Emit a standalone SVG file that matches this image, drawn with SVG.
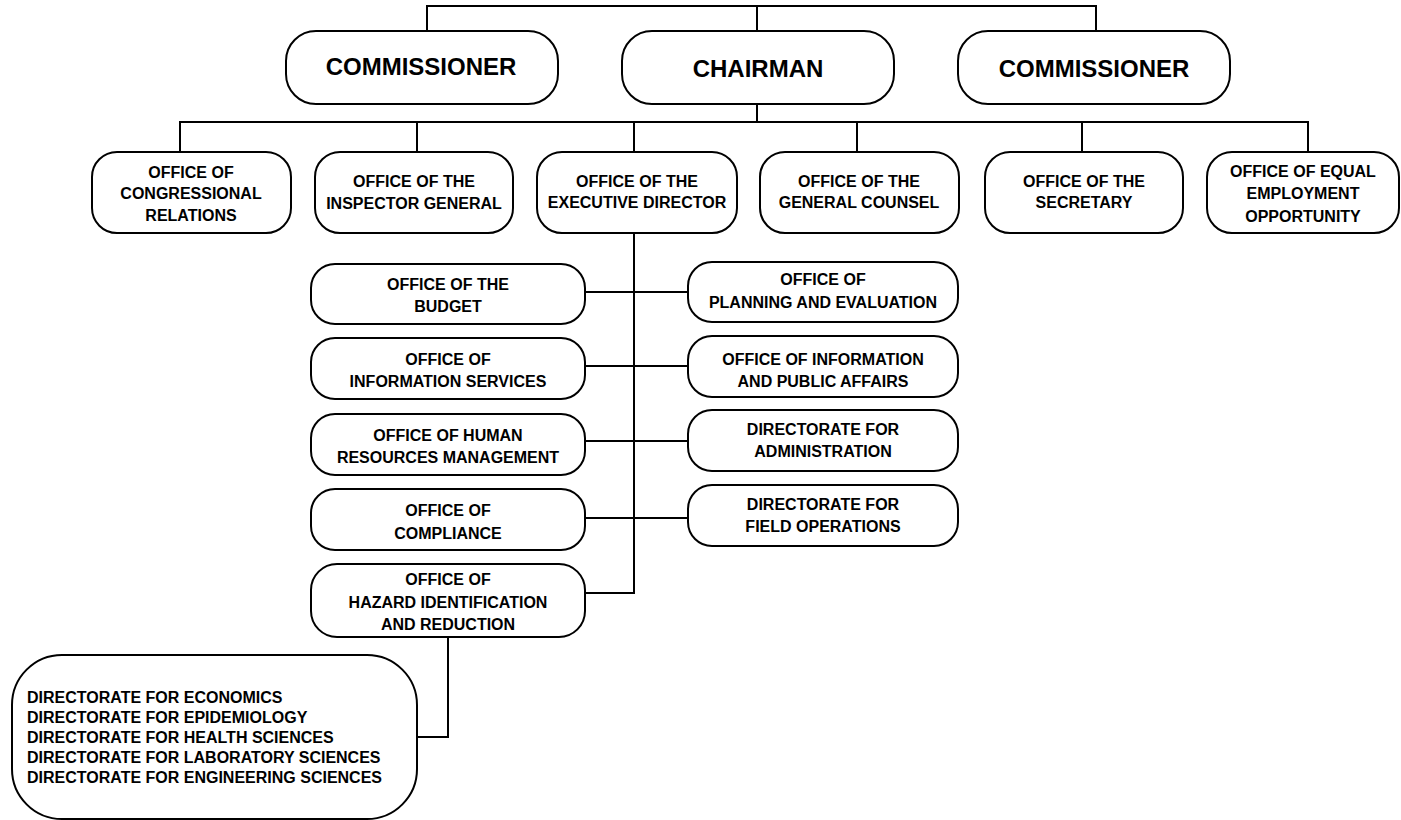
<svg xmlns="http://www.w3.org/2000/svg" width="1401" height="820" viewBox="0 0 1401 820">
<style>
.box{fill:#fff;stroke:#000;stroke-width:2}
.t{font-family:"Liberation Sans",Arial,sans-serif;font-weight:bold;font-size:16px;fill:#000;text-anchor:middle}
.big{font-size:24px}
.l{text-anchor:start}
.c{fill:none;stroke:#000;stroke-width:2}
</style>
<rect width="1401" height="820" fill="#fff"/>
<g id="connectors">
<polyline class="c" points="427,31 427,6 1096,6 1096,31"/>
<line class="c" x1="757" y1="6" x2="757" y2="31"/>
<line class="c" x1="757" y1="104" x2="757" y2="122"/>
<polyline class="c" points="180,152 180,122 1308,122 1308,152"/>
<line class="c" x1="417" y1="122" x2="417" y2="152"/>
<line class="c" x1="634" y1="122" x2="634" y2="152"/>
<line class="c" x1="857" y1="122" x2="857" y2="152"/>
<line class="c" x1="1082" y1="122" x2="1082" y2="152"/>
<polyline class="c" points="634,233 634,593 585,593"/>
<line class="c" x1="585" y1="292" x2="688" y2="292"/>
<line class="c" x1="585" y1="366" x2="688" y2="366"/>
<line class="c" x1="585" y1="441" x2="688" y2="441"/>
<line class="c" x1="585" y1="518" x2="688" y2="518"/>
<polyline class="c" points="448,637 448,737 417,737"/>
</g>
<g id="commissioner1"><rect class="box" x="286" y="31" width="272" height="73" rx="30"/><text class="t big" x="421" y="75">COMMISSIONER</text></g>
<g id="chairman"><rect class="box" x="622" y="31" width="272" height="73" rx="30"/><text class="t big" x="758" y="77">CHAIRMAN</text></g>
<g id="commissioner2"><rect class="box" x="958" y="31" width="272" height="73" rx="30"/><text class="t big" x="1094" y="77">COMMISSIONER</text></g>

<g id="congressional"><rect class="box" x="92" y="152" width="199" height="81" rx="25"/><text class="t" x="191" y="178">OFFICE OF</text><text class="t" x="191" y="199">CONGRESSIONAL</text><text class="t" x="191" y="221">RELATIONS</text></g>
<g id="inspector"><rect class="box" x="315" y="152" width="198" height="81" rx="25"/><text class="t" x="414" y="187">OFFICE OF THE</text><text class="t" x="414" y="209">INSPECTOR GENERAL</text></g>
<g id="executive"><rect class="box" x="537" y="152" width="200" height="81" rx="25"/><text class="t" x="637" y="187">OFFICE OF THE</text><text class="t" x="637" y="208">EXECUTIVE DIRECTOR</text></g>
<g id="counsel"><rect class="box" x="760" y="152" width="199" height="81" rx="25"/><text class="t" x="859" y="187">OFFICE OF THE</text><text class="t" x="859" y="208">GENERAL COUNSEL</text></g>
<g id="secretary"><rect class="box" x="985" y="152" width="198" height="81" rx="25"/><text class="t" x="1084" y="187">OFFICE OF THE</text><text class="t" x="1084" y="208">SECRETARY</text></g>
<g id="eeo"><rect class="box" x="1207" y="152" width="192" height="81" rx="25"/><text class="t" x="1303" y="177">OFFICE OF EQUAL</text><text class="t" x="1303" y="199">EMPLOYMENT</text><text class="t" x="1303" y="222">OPPORTUNITY</text></g>

<g id="budget"><rect class="box" x="311" y="264" width="274" height="60" rx="24"/><text class="t" x="448" y="290">OFFICE OF THE</text><text class="t" x="448" y="312">BUDGET</text></g>
<g id="planning"><rect class="box" x="688" y="262" width="270" height="60" rx="24"/><text class="t" x="823" y="285">OFFICE OF</text><text class="t" x="823" y="308">PLANNING AND EVALUATION</text></g>
<g id="infoservices"><rect class="box" x="311" y="338" width="274" height="61" rx="24"/><text class="t" x="448" y="365">OFFICE OF</text><text class="t" x="448" y="387">INFORMATION SERVICES</text></g>
<g id="publicaffairs"><rect class="box" x="688" y="336" width="270" height="61" rx="24"/><text class="t" x="823" y="365">OFFICE OF INFORMATION</text><text class="t" x="823" y="387">AND PUBLIC AFFAIRS</text></g>
<g id="humanresources"><rect class="box" x="311" y="414" width="274" height="61" rx="24"/><text class="t" x="448" y="441">OFFICE OF HUMAN</text><text class="t" x="448" y="463">RESOURCES MANAGEMENT</text></g>
<g id="administration"><rect class="box" x="688" y="410" width="270" height="61" rx="24"/><text class="t" x="823" y="435">DIRECTORATE FOR</text><text class="t" x="823" y="457">ADMINISTRATION</text></g>
<g id="compliance"><rect class="box" x="311" y="489" width="274" height="61" rx="24"/><text class="t" x="448" y="516">OFFICE OF</text><text class="t" x="448" y="539">COMPLIANCE</text></g>
<g id="fieldops"><rect class="box" x="688" y="485" width="270" height="61" rx="24"/><text class="t" x="823" y="510">DIRECTORATE FOR</text><text class="t" x="823" y="532">FIELD OPERATIONS</text></g>
<g id="hazard"><rect class="box" x="311" y="564" width="274" height="73" rx="26"/><text class="t" x="448" y="585">OFFICE OF</text><text class="t" x="448" y="608">HAZARD IDENTIFICATION</text><text class="t" x="448" y="630">AND REDUCTION</text></g>

<g id="directorates"><rect class="box" x="12" y="655" width="405" height="164" rx="50"/>
<text class="t l" x="27" y="703">DIRECTORATE FOR ECONOMICS</text>
<text class="t l" x="27" y="723">DIRECTORATE FOR EPIDEMIOLOGY</text>
<text class="t l" x="27" y="743">DIRECTORATE FOR HEALTH SCIENCES</text>
<text class="t l" x="27" y="763">DIRECTORATE FOR LABORATORY SCIENCES</text>
<text class="t l" x="27" y="783">DIRECTORATE FOR ENGINEERING SCIENCES</text></g>
</svg>
